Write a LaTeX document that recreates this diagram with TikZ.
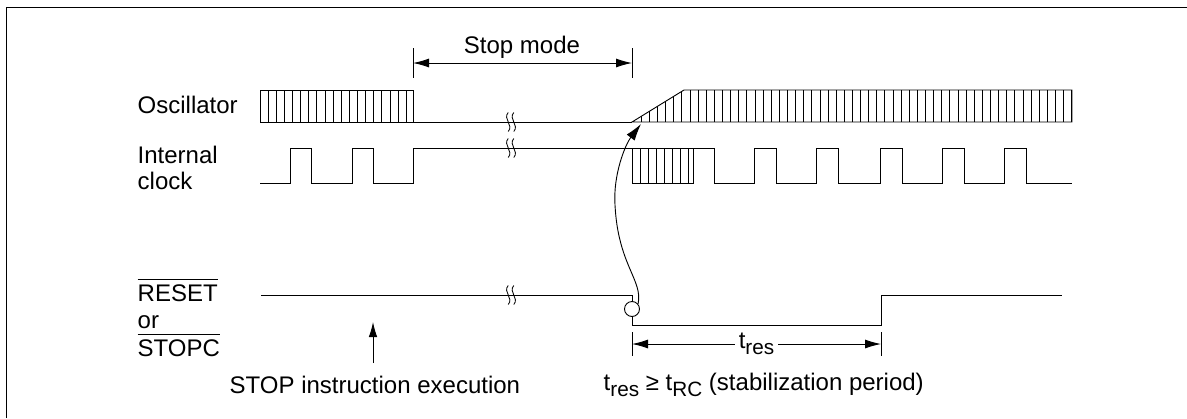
\documentclass[tikz,border=0pt]{standalone}
\usepackage{fontspec}
\setmainfont{Liberation Sans}
\usetikzlibrary{arrows.meta}
\newcommand{\subtxt}[1]{\raisebox{-.5ex}{\fontsize{5.9}{7}\selectfont #1}}
\newcommand{\barsig}[1]{$\overline{\mbox{#1}}$}
\tikzset{
 sig/.style = {anchor = base west, inner sep = 0pt},
 wave/.style = {line width = .26pt},
 dim/.style = {line width = .26pt, {Latex[length=.16cm,width=.09cm]}-{Latex[length=.16cm,width=.09cm]}},
 wavebreak/.pic = {
  \draw [line width = .24pt] (-.028,.095).. controls (-.085,.03) and (.03,-.03) .. (-.028,-.095);
  \draw [line width = .24pt] (.028,.095).. controls (-.03,.03) and (.085,-.03) .. (.028,-.095);
 }
}

\begin{document}
\begin{tikzpicture}[font = \fontsize{6.83}{8}\selectfont]
 \useasboundingbox (0, 0) rectangle (11.87, -4.18);
 \draw [line width = .4pt] (.065, -4.18) -- (.065, -.075) -- (11.87, -.075);

 %labels
 \node [sig] (osc) at (1.37, -1.13) {Oscillator};
 \node [sig] (internal) at (1.37, -1.63) {Internal};
 \node [sig] (clock) at (1.37, -1.89) {clock};
 \node [sig] (reset) at (1.37, -3.01) {\barsig{RESET}};
 \node [sig] (or) at (1.37, -3.28) {or};
 \node [sig] (stopc) at (1.37, -3.56) {\barsig{STOPC}};

 %oscillator
 \foreach \x in {2.60, 2.6813, ..., 4.07} \draw [wave] (\x, -.90) -- (\x, -1.22);
 \draw [wave] (2.60, -.90) -- (4.13, -.90) -- (4.13, -1.22);
 \draw [wave] (2.60, -1.22) -- (6.32, -1.22);
 \path (5.11, -1.22) pic {wavebreak};
 \begin{scope}
  \clip (6.32, -1.22) -- (6.84, -.90) -- (10.72, -.90) -- (10.72, -1.22) -- cycle;
  \foreach \x in {6.413, 6.4942, ..., 10.73} \draw [wave] (\x, -.90) -- (\x, -1.22);
 \end{scope}
 \draw [wave] (6.32, -1.22) -- (6.84, -.90) -- (10.72, -.90) -- (10.72, -1.22) -- cycle;

 %internal clock
 \draw [wave] (2.60, -1.83) -- (2.90, -1.83) -- (2.90, -1.48) -- (3.11, -1.48) -- (3.11, -1.83)
  -- (3.52, -1.83) -- (3.52, -1.48) -- (3.73, -1.48) -- (3.73, -1.83)
  -- (4.13, -1.83) -- (4.13, -1.48) -- (7.14, -1.48) -- (7.14, -1.83)
  -- (7.54, -1.83) -- (7.54, -1.48) -- (7.76, -1.48) -- (7.76, -1.83)
  -- (8.16, -1.83) -- (8.16, -1.48) -- (8.38, -1.48) -- (8.38, -1.83)
  -- (8.80, -1.83) -- (8.80, -1.48) -- (9.02, -1.48) -- (9.02, -1.83)
  -- (9.42, -1.83) -- (9.42, -1.48) -- (9.64, -1.48) -- (9.64, -1.83)
  -- (10.04, -1.83) -- (10.04, -1.48) -- (10.26, -1.48) -- (10.26, -1.83) -- (10.72, -1.83);
 \path (5.11, -1.48) pic {wavebreak};
 \foreach \x in {6.32, 6.4013, ..., 6.91} \draw [wave] (\x, -1.48) -- (\x, -1.83);
 \draw [wave] (6.93, -1.48) -- (6.93, -1.83) -- (6.32, -1.83);

 %reset
 \draw [wave] (2.61, -2.95) -- (6.32, -2.95) -- (6.32, -3.25) -- (8.81, -3.25) -- (8.81, -2.95) -- (10.62, -2.95);
 \path (5.11, -2.95) pic {wavebreak};
 \node [circle, draw, fill = white, line width = .26pt, minimum size = .15cm, inner sep = 0pt] (edge) at (6.32, -3.09) {};
 \coordinate (ramp) at (6.41, -1.24);
 \draw [wave, -{Latex[length=.17cm,width=.1cm]}] (edge.40).. controls (6.43, -2.80) and (6.18, -2.65) .. (6.15, -2.05)
  .. controls (6.13, -1.75) and (6.25, -1.45) .. (ramp);

 %stop mode
 \coordinate (stopL) at (4.13, -.63);
 \coordinate (stopR) at (6.32, -.63);
 \draw [wave] (4.13, -.48) -- (4.13, -.78);
 \draw [wave] (6.32, -.48) -- (6.32, -.78);
 \draw [dim] (stopL) -- (stopR);
 \node [anchor = base] (stop) at (5.22, -.53) {Stop mode};

 %tres
 \coordinate (tresL) at (6.32, -3.44);
 \coordinate (tresR) at (8.81, -3.44);
 \draw [wave] (6.32, -3.32) -- (6.32, -3.56);
 \draw [wave] (8.81, -3.32) -- (8.81, -3.56);
 \draw [dim] (tresL) -- (tresR) node [midway, fill = white, inner sep = 1pt] (tres) {t\subtxt{res}};
 \node [sig] (period) at (6.03, -3.90) {t\subtxt{res} ≥ t\subtxt{RC} (stabilization period)};

 %stop instruction
 \node [sig] (instr) at (2.29, -3.93) {STOP instruction execution};
 \coordinate (instrTip) at (3.73, -3.22);
 \coordinate (instrEnd) at (3.73, -3.63);
 \draw [wave, -{Latex[length=.15cm,width=.085cm]}] (instrEnd) -- (instrTip);
\end{tikzpicture}
\end{document}
